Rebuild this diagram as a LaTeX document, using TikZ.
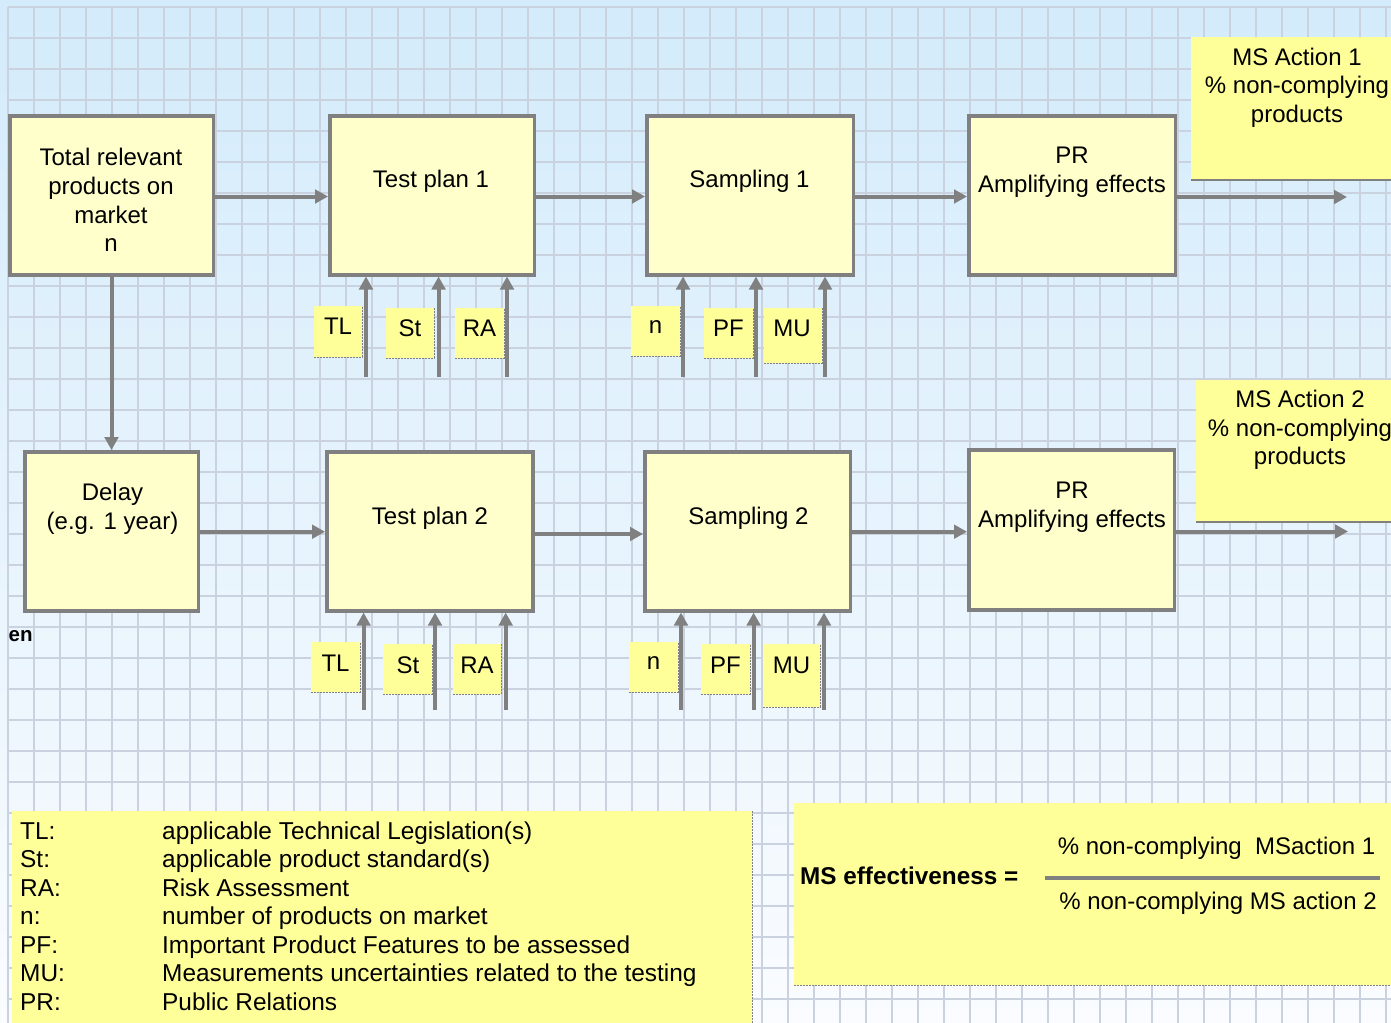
\documentclass[tikz,border=0pt]{standalone}
\usepackage{fontspec}
\setmainfont{Liberation Sans}
\usetikzlibrary{arrows.meta}
\definecolor{bgtop}{RGB}{211,235,251}
\definecolor{bgbot}{RGB}{250,252,255}
\definecolor{gridc}{RGB}{202,210,224}
\definecolor{boxfill}{RGB}{255,255,204}
\definecolor{notefill}{RGB}{255,255,153}
\definecolor{edgec}{RGB}{128,128,128}
\newcommand\tagnote[8]{%
  \path[fill=notefill] (#2,#3) rectangle (#4,#5);
  \draw[notedge] (#2,#5) -- (#4,#5) -- (#4,#3);
  \node[txt] (#1) at (#7,#8) {#6};}
\begin{document}
\begin{tikzpicture}[x=1pt,y=-1pt,
  gridline/.style={draw=gridc, line width=1.8pt},
  blk/.style={draw=edgec, line width=3.5pt, fill=boxfill, inner sep=0pt},
  arr/.style={draw=edgec, line width=4pt, -{Triangle[length=13pt,width=13.5pt]}},
  notedge/.style={draw=edgec, line width=0.8pt, dash pattern=on 2pt off 1pt},
  txt/.style={inner sep=0pt, align=center, font=\fontsize{24}{28.7}\selectfont},
  legtxt/.style={inner sep=0pt, anchor=base west, font=\fontsize{24.4}{28}\selectfont},
]
\useasboundingbox (0,0) rectangle (1391,1022);
\clip (0,0) rectangle (1391,1022);
\shade[top color=bgtop, bottom color=bgbot] (0,0) rectangle (1391,1022);
% grid
\foreach \i in {0,...,53} \draw[gridline] ({7.7+26*\i},6.7) -- ({7.7+26*\i},1030);
\foreach \j in {0,...,32} \draw[gridline] (7.7,{6.7+31*\j}) -- (1400,{6.7+31*\j});

% main boxes (row 1)
\node[blk, minimum width=203.5pt, minimum height=158.5pt] (A) at (111.5,195.5) {};
\node[blk, minimum width=204.5pt, minimum height=158.5pt] (TP1) at (432,195.5) {};
\node[blk, minimum width=206.5pt, minimum height=158.5pt] (S1) at (750,195.5) {};
\node[blk, minimum width=206.5pt, minimum height=158.5pt] (PR1) at (1072,195.5) {};
% row 2
\node[blk, minimum width=173.3pt, minimum height=159pt] (D) at (111.6,531.3) {};
\node[blk, minimum width=206pt, minimum height=159pt] (TP2) at (429.8,531.3) {};
\node[blk, minimum width=205.5pt, minimum height=159pt] (S2) at (747.5,531.3) {};
\node[blk, minimum width=205.5pt, minimum height=160pt] (PR2) at (1071.5,529.9) {};

% box texts
\node[txt] (tA) at (111,200) {Total relevant\\products on\\market\\n};
\node[txt] (tTP1) at (431,181.5) {Test plan 1};
\node[txt] (tS1) at (749.5,181.7) {Sampling 1};
\node[txt] (tPR1) at (1072,172.5) {PR\\Amplifying effects};
\node[txt] (tD) at (112.5,509) {Delay\\(e.g. 1 year)};
\node[txt] (tTP2) at (430,518) {Test plan 2};
\node[txt] (tS2) at (748.5,518) {Sampling 2};
\node[txt] (tPR2) at (1072,507) {PR\\Amplifying effects};

% main connectors
\draw[arr] (A.east |- 0,196.5) -- (TP1.west |- 0,196.5);
\draw[arr] (TP1.east |- 0,196.5) -- (S1.west |- 0,196.5);
\draw[arr] (S1.east |- 0,196.5) -- (PR1.west |- 0,196.5);
\coordinate (out1) at (1347,197);
\draw[arr] (PR1.east |- out1) -- (out1);
\draw[arr] (A.south) -- (A.south |- D.north);
\draw[arr] (D.east |- 0,531.7) -- (TP2.west |- 0,531.7);
\draw[arr] (TP2.east |- 0,534) -- (S2.west |- 0,534);
\draw[arr] (S2.east |- 0,531.7) -- (PR2.west |- 0,531.7);
\coordinate (out2) at (1348,531.5);
\draw[arr] (PR2.east |- out2) -- (out2);

% input tags row 1
\tagnote{gTL1}{314}{306}{362}{357}{TL}{338}{326.7}
\tagnote{gSt1}{386}{308}{434}{358}{St}{410}{328}
\tagnote{gRA1}{455}{308}{504}{358}{RA}{479.5}{328}
\tagnote{gn1}{631}{306}{680}{356}{n}{655.5}{326.7}
\tagnote{gPF1}{704}{308}{753}{358}{PF}{728.5}{328}
\tagnote{gMU1}{764}{308}{822}{363}{MU}{792}{328}
% input tags row 2
\tagnote{gTL2}{311}{642}{360}{692}{TL}{335.5}{663}
\tagnote{gSt2}{383}{644}{432}{694}{St}{408}{665}
\tagnote{gRA2}{453}{644}{501}{694}{RA}{477}{665}
\tagnote{gn2}{629}{642}{678}{692}{n}{653.5}{663}
\tagnote{gPF2}{701}{644}{750}{694}{PF}{725.5}{665}
\tagnote{gMU2}{763}{644}{820}{707}{MU}{791.5}{665}

% input arrows row 1
\foreach \x/\b in {366/TP1,438.6/TP1,507/TP1,683/S1,756/S1,825/S1}
  {\coordinate (in) at (\x,377); \draw[arr] (in) -- (in |- \b.south);}
% input arrows row 2
\foreach \x/\b in {363.6/TP2,435/TP2,505.7/TP2,681/S2,753.6/S2,824/S2}
  {\coordinate (in) at (\x,710); \draw[arr] (in) -- (in |- \b.south);}

% MS action notes
\path[fill=notefill] (1191,37) rectangle (1400,180);
\draw[edgec, line width=1.2pt] (1191,180) -- (1400,180);
\node[txt] (ms1) at (1297,87.5) {MS Action 1\\\% non-complying\\products};
\path[fill=notefill] (1196,380) rectangle (1400,522);
\draw[edgec, line width=1.2pt] (1196,522) -- (1400,522);
\node[txt] (ms2) at (1300,430) {MS Action 2\\\% non-complying\\products};

% language mark
\node[inner sep=0pt, anchor=west, font=\fontsize{20.5}{24}\selectfont\bfseries] (en) at (8.5,636) {en};

% legend
\path[fill=notefill] (12,811) rectangle (752,1030);
\draw[notedge] (752,811) -- (752,1030);
\foreach \a/\b [count=\k] in {TL:/applicable Technical Legislation(s),
  St:/applicable product standard(s),
  RA:/Risk Assessment,
  n:/number of products on market,
  PF:/Important Product Features to be assessed,
  MU:/Measurements uncertainties related to the testing,
  PR:/Public Relations}
  {\node[legtxt] (leg\k) at (20,{839+28.5*(\k-1)}) {\makebox[142pt][l]{\a}\b};}

% formula
\path[fill=notefill] (794,803) rectangle (1400,985);
\draw[notedge] (794,985) -- (1400,985);
\node[inner sep=0pt, anchor=west, font=\fontsize{24.3}{28}\selectfont\bfseries] (mse) at (800,876) {MS effectiveness =};
\coordinate (fl) at (1045,878);
\coordinate (fr) at (1380,878);
\draw[edgec, line width=4pt] (fl) -- (fr);
\node[txt] (num) at (1216.5,848) {\% non-complying\ \ MSaction 1};
\node[txt] (den) at (1218,903.5) {\% non-complying MS action 2};
\end{tikzpicture}
\end{document}
